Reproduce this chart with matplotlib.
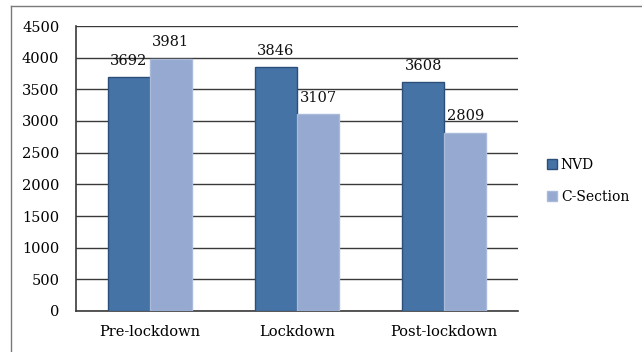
import numpy as np
import matplotlib.pyplot as plt
from matplotlib.patches import Patch
from matplotlib.lines import Line2D

# ─── data ─────────────────────────────────────────────
categories = ["Pre-lockdown", "Lockdown", "Post-lockdown"]
nvd        = [3692, 3846, 3608]
csection   = [3981, 3107, 2809]
series_names = ["NVD", "C-Section"]
yticks     = [0, 500, 1000, 1500, 2000, 2500, 3000, 3500, 4000, 4500]

# ─── style ────────────────────────────────────────────
FONT      = "DejaVu Serif"
FS        = 10.5
NVD_FACE  = "#4673A6"
NVD_EDGE  = "#2B4E7A"
CS_FACE   = "#95A9D1"
CS_EDGE   = "#A9BADB"
GRID_COL  = "#3a3a3a"
BAR_W     = 0.285

plt.rcParams["font.family"] = FONT
plt.rcParams["font.size"] = FS

fig = plt.figure(figsize=(6.42, 3.52), dpi=100)
ax = fig.add_axes([76 / 642, 1 - 311 / 352, (518 - 76) / 642, (311 - 26) / 352])

x = np.arange(len(categories))
b1 = ax.bar(x - BAR_W / 2, nvd, BAR_W, color=NVD_FACE, edgecolor=NVD_EDGE,
            linewidth=1.0, zorder=3)
b2 = ax.bar(x + BAR_W / 2, csection, BAR_W, color=CS_FACE, edgecolor=CS_EDGE,
            linewidth=1.0, zorder=3)

# value labels above each bar
for bars, vals in ((b1, nvd), (b2, csection)):
    for r, v in zip(bars, vals):
        ax.annotate(f"{v}", (r.get_x() + r.get_width() / 2, v),
                    xytext=(0, 12), textcoords="offset points",
                    ha="center", va="center", fontsize=FS, color="#111111",
                    zorder=4)

ax.set_xlim(-0.5, len(categories) - 0.5)
ax.set_ylim(0, 4500)
ax.set_yticks(yticks)
ax.set_xticks(x)
ax.set_xticklabels(categories)
ax.tick_params(axis="y", length=0, pad=12)
ax.tick_params(axis="x", length=0, pad=10)
ax.yaxis.grid(True, color=GRID_COL, linewidth=1.0, zorder=0)
ax.set_axisbelow(True)
for s in ("top", "right"):
    ax.spines[s].set_visible(False)
for s in ("left", "bottom"):
    ax.spines[s].set_color(GRID_COL)
    ax.spines[s].set_linewidth(1.2)

# legend
handles = [Patch(facecolor=NVD_FACE, edgecolor=NVD_EDGE, linewidth=1.0),
           Patch(facecolor=CS_FACE, edgecolor=CS_EDGE, linewidth=1.0)]
fig.legend(handles, series_names, loc="center left",
           bbox_to_anchor=(540 / 642, 1 - 181 / 352), frameon=False,
           handlelength=0.7, handleheight=0.7, handletextpad=0.3,
           labelspacing=1.3, borderpad=0, fontsize=10)

# outer frame of the chart area
fig.add_artist(Line2D([11.5 / 642, 11.5 / 642], [0, 1 - 6 / 352],
                      transform=fig.transFigure, color="#7a7a7a", lw=1.0))
fig.add_artist(Line2D([11.5 / 642, 1], [1 - 6 / 352, 1 - 6 / 352],
                      transform=fig.transFigure, color="#7a7a7a", lw=1.0))

fig.savefig("out.png", dpi=100)
